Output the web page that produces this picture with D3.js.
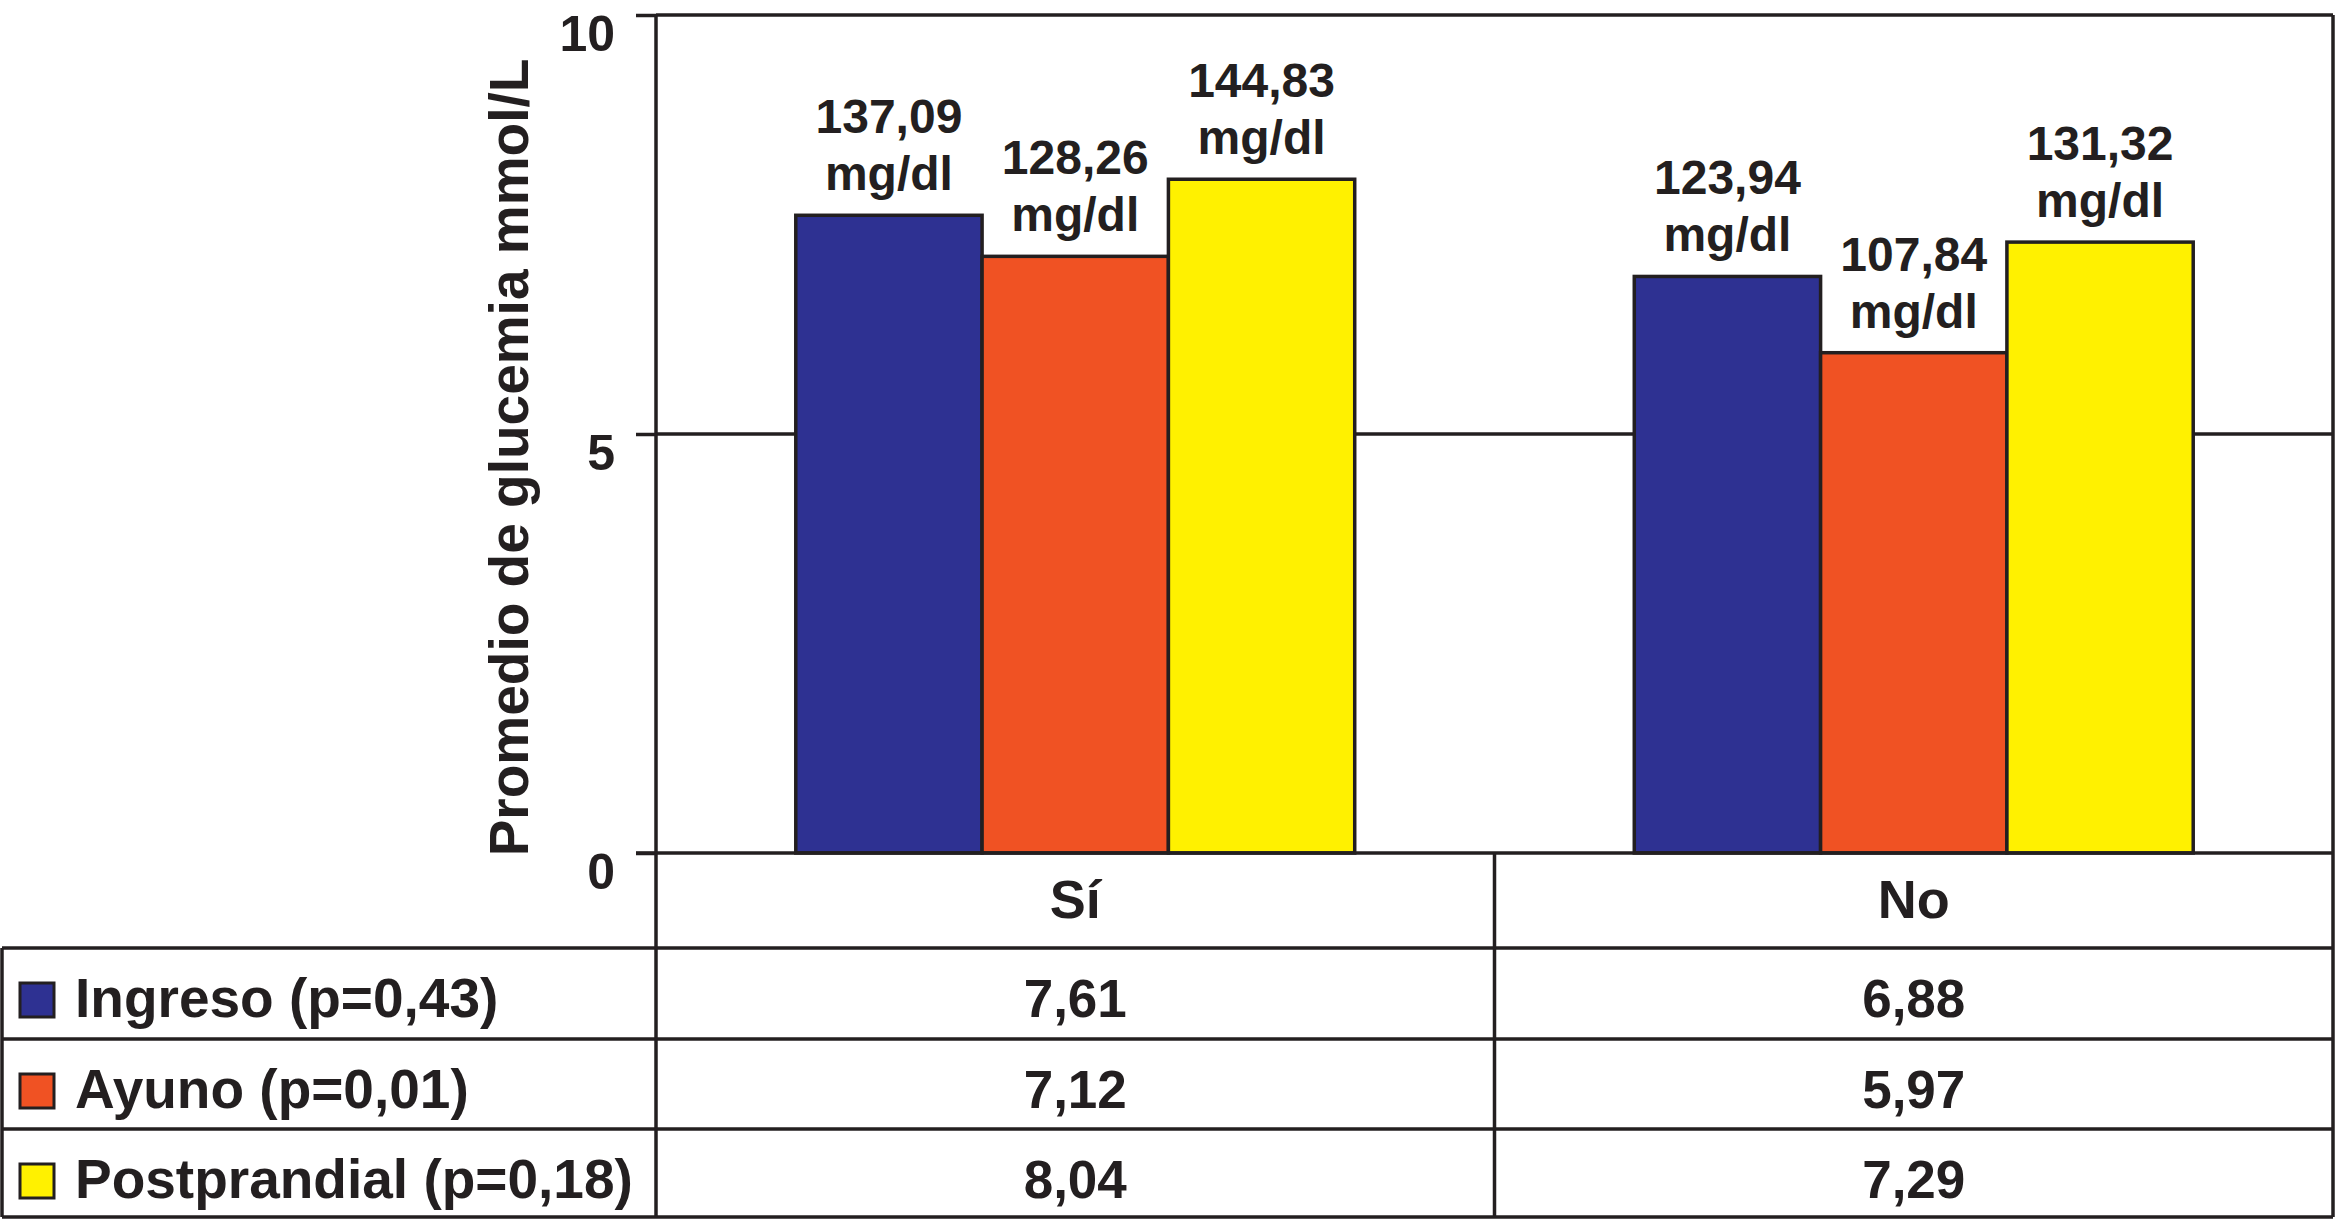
<!DOCTYPE html>
<html>
<head>
<meta charset="utf-8">
<script src="https://cdn.jsdelivr.net/npm/d3@7"></script>
<style>
  html, body { margin: 0; padding: 0; background: #fff; }
  svg { display: block; }
  text { font-family: "Liberation Sans", Arial, Helvetica, sans-serif; font-weight: bold; fill: #231f20; }
</style>
</head>
<body>
<svg id="chart" width="2338" height="1219"></svg>
<script>
// ---- data ----
const categories = ["Sí", "No"];
const seriesNames = ["Ingreso (p=0,43)", "Ayuno (p=0,01)", "Postprandial (p=0,18)"];
const ingreso = [7.61, 6.88];
const ayuno = [7.12, 5.97];
const postprandial = [8.04, 7.29];
const ingresoMg = ["137,09", "123,94"];
const ayunoMg = ["128,26", "107,84"];
const postprandialMg = ["144,83", "131,32"];
const yTicks = [0, 5, 10];
const yTitle = "Promedio de glucemia mmol/L";
const unitLabel = "mg/dl";
const seriesColors = ["#2e3192", "#f05223", "#fff100"];

const seriesValues = [ingreso, ayuno, postprandial];
const seriesMg = [ingresoMg, ayunoMg, postprandialMg];
const fmt = v => v.toFixed(2).replace(".", ",");

// ---- layout ----
const ink = "#231f20";
const lw = 3.5;
const plotLeft = 656, plotRight = 2333, plotTop = 15, plotBottom = 853;
const tableLeft = 2;
const rowLines = [948, 1039, 1129, 1217];

const svg = d3.select("#chart");

const y = d3.scaleLinear().domain([0, 10]).range([plotBottom, plotTop]);
const x0 = d3.scaleBand().domain(categories).range([plotLeft, plotRight]).padding(0);
const bw = x0.bandwidth();
const x1 = d3.scaleBand().domain(seriesNames).range([bw * 0.1667, bw * 0.8333]).padding(0);

// grid lines (5 and 10) across plot
svg.append("g").selectAll("line").data(yTicks.filter(t => t > 0)).join("line")
  .attr("x1", plotLeft).attr("x2", plotRight)
  .attr("y1", d => y(d)).attr("y2", d => y(d))
  .attr("stroke", ink).attr("stroke-width", lw);

// y axis
const yAxis = d3.axisLeft(y).tickValues(yTicks).tickSize(20).tickFormat(d3.format("d"));
const gy = svg.append("g").attr("transform", `translate(${plotLeft},0)`).call(yAxis);
gy.select(".domain").remove();
gy.selectAll(".tick line").attr("stroke", ink).attr("stroke-width", lw);
gy.selectAll(".tick text")
  .attr("x", -41).attr("dy", null).attr("y", 35)
  .attr("font-size", 50).attr("font-family", "'Liberation Sans', Arial, sans-serif")
  .attr("font-weight", "bold").attr("fill", ink);

// y title
svg.append("text")
  .attr("transform", `translate(528,${(60 + 855) / 2}) rotate(-90)`)
  .attr("text-anchor", "middle")
  .attr("font-size", 55)
  .text(yTitle);

// bars
const groups = svg.append("g").selectAll("g").data(categories).join("g")
  .attr("transform", d => `translate(${x0(d)},0)`);

groups.each(function(cat, ci) {
  const g = d3.select(this);
  seriesNames.forEach((s, si) => {
    const v = seriesValues[si][ci];
    g.append("rect")
      .attr("x", x1(s)).attr("width", x1.bandwidth())
      .attr("y", y(v)).attr("height", y(0) - y(v))
      .attr("fill", seriesColors[si])
      .attr("stroke", ink).attr("stroke-width", lw);
    const t = g.append("text")
      .attr("text-anchor", "middle")
      .attr("font-size", 48);
    t.append("tspan").attr("x", x1(s) + x1.bandwidth() / 2).attr("y", y(v) - 82).text(seriesMg[si][ci]);
    t.append("tspan").attr("x", x1(s) + x1.bandwidth() / 2).attr("y", y(v) - 25).text(unitLabel);
  });
});

// table lines
const frame = svg.append("g").attr("stroke", ink).attr("stroke-width", lw).attr("fill", "none");
frame.append("line").attr("x1", plotLeft - 20).attr("x2", plotRight).attr("y1", plotBottom).attr("y2", plotBottom);
rowLines.forEach(ry => {
  frame.append("line").attr("x1", tableLeft).attr("x2", plotRight).attr("y1", ry).attr("y2", ry);
});
frame.append("line").attr("x1", plotLeft).attr("x2", plotLeft).attr("y1", plotTop).attr("y2", rowLines[3]);
frame.append("line").attr("x1", plotRight).attr("x2", plotRight).attr("y1", plotTop).attr("y2", rowLines[3]);
frame.append("line").attr("x1", x0(categories[1])).attr("x2", x0(categories[1])).attr("y1", plotBottom).attr("y2", rowLines[3]);
frame.append("line").attr("x1", tableLeft).attr("x2", tableLeft).attr("y1", rowLines[0]).attr("y2", rowLines[3]);

// category labels
svg.append("g").selectAll("text").data(categories).join("text")
  .attr("x", d => x0(d) + bw / 2).attr("y", 918)
  .attr("text-anchor", "middle").attr("font-size", 54)
  .text(d => d);

// table rows
seriesNames.forEach((s, si) => {
  const top = rowLines[si];
  svg.append("rect")
    .attr("x", 20).attr("y", top + 35).attr("width", 34).attr("height", 34)
    .attr("fill", seriesColors[si]).attr("stroke", ink).attr("stroke-width", 3);
  svg.append("text")
    .attr("x", 75).attr("y", top + 69)
    .attr("font-size", 55)
    .text(s);
  categories.forEach((c, ci) => {
    svg.append("text")
      .attr("x", x0(c) + bw / 2).attr("y", top + 69)
      .attr("text-anchor", "middle").attr("font-size", 53)
      .text(fmt(seriesValues[si][ci]));
  });
});
</script>
</body>
</html>
